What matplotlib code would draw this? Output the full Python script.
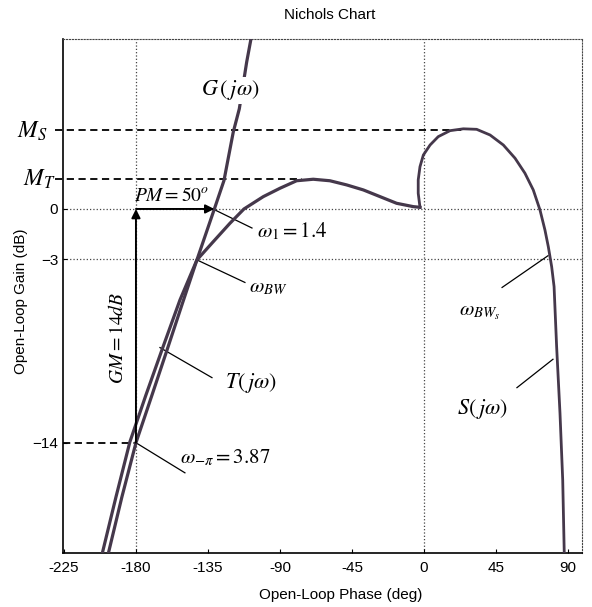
import matplotlib.pyplot as plt

plt.rcParams['font.family'] = ['Liberation Sans', 'DejaVu Sans']
plt.rcParams['mathtext.fontset'] = 'stix'

# G(jw) lazo abierto: fase (deg) y ganancia (dB)
g_phase = [-107.7, -110.8, -115.4, -119.2, -125.0, -131.0, -141.9, -151.3,
           -160.6, -170.0, -180.0, -188.8, -197.7]
g_gain = [10.4, 8.8, 6.0, 4.6, 1.7, 0.0, -3.05, -5.75, -8.45, -11.15, -14.0,
          -17.25, -20.8]

# T(jw) lazo cerrado
t_phase = [-201.5, -192.5, -183.8, -173.8, -163.8, -152.5, -141.9, -131.7,
           -121.3, -112.5, -100.4, -90.0, -79.6, -69.2, -58.8, -48.3, -37.9,
           -27.5, -17.1, -6.7, -2.5]
t_gain = [-20.8, -17.25, -13.95, -11.15, -8.45, -5.45, -3.05, -1.96, -0.86,
          0.0, 0.74, 1.24, 1.69, 1.78, 1.69, 1.44, 1.14, 0.74, 0.34, 0.14, 0.1]

# S(jw) sensibilidad
s_phase = [-2.5, -3.6, -3.6, -2.5, -0.4, 3.8, 8.9, 16.3, 24.6, 32.9, 41.3,
           49.6, 56.9, 63.1, 68.3, 72.5, 75.6, 77.7, 79.8, 81.3, 82.9, 85.0,
           86.7, 87.7]
s_gain = [0.1, 0.94, 1.74, 2.53, 3.23, 3.83, 4.33, 4.69, 4.8, 4.77, 4.43,
          3.83, 3.04, 2.14, 1.14, -0.06, -1.26, -2.26, -3.46, -4.65, -8.25,
          -12.23, -16.23, -20.8]

x_ticks = [-225, -180, -135, -90, -45, 0, 45, 90]
y_ticks = [-14, -3, 0]
y_labels = ['\u221214', '\u22123', '0']

ms = 4.75   # pico de S
mt = 1.78   # pico de T
pm_phase = -131.0
gm_gain = -14.0

curve_col = '#45384b'

fig = plt.figure(figsize=(5.92, 6.07), dpi=100)
ax = fig.add_axes([0.1064, 0.089, 0.8767, 0.8468])

# rejilla punteada
for xv in (-180, 0):
    ax.axvline(xv, ls=':', lw=0.9, color='#444444', zorder=1)
for yv in (0, -3):
    ax.axhline(yv, ls=':', lw=0.9, color='#444444', zorder=1)

# curvas
ax.plot(g_phase, g_gain, color=curve_col, lw=2.3, zorder=3)
ax.plot(t_phase, t_gain, color=curve_col, lw=2.3, zorder=3)
ax.plot(s_phase, s_gain, color=curve_col, lw=2.0, zorder=3)

# lineas discontinuas M_S, M_T, -14
ax.plot([-230.5, 24.6], [ms, ms], ls='--', dashes=(4, 2.5), color='k',
        lw=1.3, clip_on=False, zorder=2)
ax.plot([-230.5, -76], [mt, mt], ls='--', dashes=(4, 2.5), color='k',
        lw=1.3, clip_on=False, zorder=2)
ax.plot([-225.6, -180], [gm_gain, gm_gain], ls='--', dashes=(4, 2.5),
        color='k', lw=1.3, zorder=2)

# flechas PM y GM
ax.annotate('', xy=(pm_phase, 0), xytext=(-180, 0),
            arrowprops=dict(arrowstyle='-|>', color='k', lw=1.4,
                            mutation_scale=13, shrinkA=0, shrinkB=0))
ax.annotate('', xy=(-180, 0), xytext=(-180, gm_gain),
            arrowprops=dict(arrowstyle='-|>', color='k', lw=1.4,
                            mutation_scale=13, shrinkA=0, shrinkB=0))

# lineas guia de las etiquetas
leaders = [
    ([-131.9, -107.5], [0.0, -1.14]),
    ([-141.9, -111.9], [-3.05, -4.4]),
    ([-132.5, -165.0], [-10.1, -8.3]),
    ([-180.0, -149.4], [-14.0, -15.8]),
    ([48.8, 77.5], [-4.7, -2.8]),
    ([58.1, 80.6], [-10.7, -9.0]),
]
for xs, ys in leaders:
    ax.plot(xs, ys, color='k', lw=0.9, zorder=2)

tk = dict(fontsize=16, color='k', ha='center', va='center', zorder=5)
ax.text(-121.3, 7.1, r'$G\,(\,j\omega)$',
        bbox=dict(facecolor='white', edgecolor='none', pad=1), **tk)
ax.text(-108.0, -10.4, r'$T(\,j\omega)$', **tk)
ax.text(36.5, -12.0, r'$S(\,j\omega)$', **tk)
tk['fontsize'] = 15
ax.text(-97.5, -4.7, r'$\omega_{BW}$', **tk)
ax.text(35.0, -6.2, r'$\omega_{BW_s}$', **tk)
ax.text(-82.5, -1.32, r'$\omega_1=1.4$', **tk)
ax.text(-124.4, -14.9, r'$\omega_{-\pi}=3.87$', **tk)
tk['fontsize'] = 14
ax.text(-157.5, 0.8, r'$PM=50^o$', **tk)
ax.text(-191.3, -7.7, r'$GM=14dB$', rotation=90, **tk)
tk['fontsize'] = 17
ax.text(-235.0, ms - 0.1, r'$M_S$', clip_on=False,
        **{**tk, 'ha': 'right'})
ax.text(-230.5, mt, r'$M_T$', clip_on=False, **{**tk, 'ha': 'right'})

ax.set_xlim(-225.6, 98.75)
ax.set_ylim(-20.6, 10.18)
ax.set_xticks(x_ticks)
ax.set_xticklabels([str(v) for v in x_ticks])
ax.set_yticks(y_ticks)
ax.set_yticklabels(y_labels)
ax.tick_params(direction='in', length=3, labelsize=11, colors='k')
ax.tick_params(axis='x', pad=6)
ax.tick_params(axis='y', pad=3.5)

for side in ('top', 'right'):
    ax.spines[side].set_linestyle(':')
    ax.spines[side].set_color('#444444')
for side in ('left', 'bottom'):
    ax.spines[side].set_linewidth(1.2)

fig.text(330 / 592, 1 - 15 / 607, 'Nichols Chart', ha='center', va='center',
         fontsize=11)
fig.text(341 / 592, 1 - 595 / 607, 'Open-Loop Phase (deg)', ha='center',
         va='center', fontsize=11)
fig.text(21 / 592, 1 - 301 / 607, 'Open-Loop Gain (dB)', ha='center',
         va='center', rotation=90, fontsize=11)

fig.savefig('out.png', dpi=100)
